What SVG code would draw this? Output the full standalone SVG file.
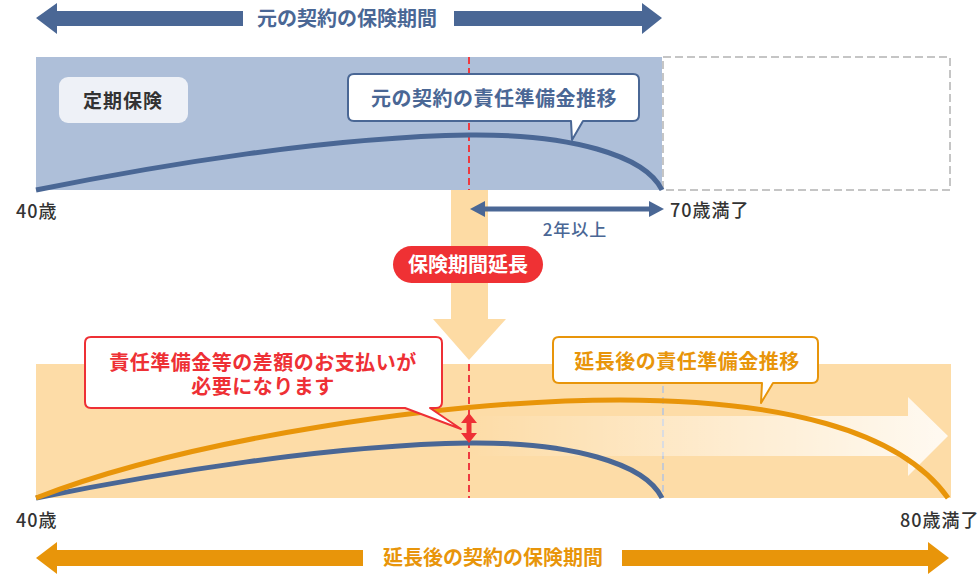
<svg xmlns="http://www.w3.org/2000/svg" width="980" height="576" viewBox="0 0 980 576">
<style>
  text { font-family: "Noto Sans CJK JP", "Noto Sans", sans-serif; }
  .title { font-size: 20px; font-weight: 700; text-anchor: middle; }
  .lbl { font-size: 18px; font-weight: 500; fill: #333333; }
  .call { font-size: 20px; font-weight: 700; text-anchor: middle; }
  .blue { fill: #4a6795; }
  .orange { fill: #e8950a; }
  .red { fill: #ee3035; }
  .redDash { stroke: #ee3a40; stroke-width: 2; stroke-dasharray: 7 4; fill: none; }
  .curveB { stroke: #4a6795; stroke-width: 5; fill: none; }
  .curveO { stroke: #e8950a; stroke-width: 5; fill: none; }
  .callBox { fill: #ffffff; stroke-width: 2; stroke-linejoin: round; }
</style>
<defs>
  <linearGradient id="fadeArrow" x1="470" y1="0" x2="948" y2="0" gradientUnits="userSpaceOnUse">
    <stop offset="0" stop-color="#ffffff" stop-opacity="0"/>
    <stop offset="0.4" stop-color="#ffffff" stop-opacity="0.35"/>
    <stop offset="1" stop-color="#ffffff" stop-opacity="0.85"/>
  </linearGradient>
</defs>

<!-- top period arrow -->
<g id="top-period">
  <polygon class="blue" points="36,18 57,3 57,11 243,11 243,26 57,26 57,34"/>
  <polygon class="blue" points="662,18 642,3 642,11 454,11 454,26 642,26 642,34"/>
  <text class="title blue" x="347" y="26">元の契約の保険期間</text>
</g>

<!-- top chart area -->
<g id="top-area">
  <rect x="36" y="57" width="626" height="133" fill="#aebfd9"/>
  <rect x="663" y="57" width="287" height="133" fill="#ffffff" stroke="#b3b3b3" stroke-width="1.5" stroke-dasharray="8 4"/>
</g>

<g id="term-label">
  <rect x="59" y="77" width="129" height="46" rx="9" fill="#eef1f7"/>
  <text class="lbl" x="123" y="108" text-anchor="middle" style="font-size:19px;font-weight:700;" letter-spacing="1">定期保険</text>
</g>

<!-- orange down arrow -->
<g id="extend-arrow">
  <polygon fill="#fddba4" points="451,190 488,190 488,319 506,319 469,360 433,319 451,319"/>
</g>

<!-- bottom chart area -->
<g id="bottom-area">
  <rect x="36" y="364" width="915" height="134" fill="#fddca7"/>
  <line x1="663" y1="364" x2="663" y2="498" stroke="#c6cad2" stroke-width="2" stroke-dasharray="7 4"/>
  <polygon fill="url(#fadeArrow)" points="470,416 908,416 908,397 948,436 908,476 908,456 470,456"/>
</g>

<!-- connectors / curves -->
<g id="connectors">
  <line class="redDash" x1="469" y1="57" x2="469" y2="190"/>
  <line class="redDash" x1="469" y1="364" x2="469" y2="498"/>
  <path class="curveB" d="M36,190 C160,165 330,137 469,135 C570,134 645,155 662,190"/>
  <path class="curveB" d="M36,498 C160,473 330,445 469,443 C570,442 645,463 662,498"/>
  <path class="curveO" d="M36,498 C190,438 450,400 620,400 C780,400 900,430 948,498"/>
  <!-- 2 years double arrow -->
  <polygon class="blue" points="470,209 485,201 485,206.5 649,206.5 649,201 664,209 649,217 649,211.5 485,211.5 485,217"/>
  <!-- red difference arrow -->
  <polygon class="red" points="469,413 477,423 471.5,423 471.5,433 477,433 469,443 461,433 466.5,433 466.5,423 461,423"/>
</g>

<g id="age-labels">
  <text class="lbl" x="16" y="218" letter-spacing="1">40歳</text>
  <text class="lbl" x="670" y="217" letter-spacing="1">70歳満了</text>
  <text class="blue" x="575" y="236" text-anchor="middle" style="font-size:17px;font-weight:500;" letter-spacing="1">2年以上</text>
  <text class="lbl" x="16" y="527" letter-spacing="1">40歳</text>
  <text class="lbl" x="900" y="527" letter-spacing="1">80歳満了</text>
</g>

<g id="extend-pill">
  <rect x="393" y="246" width="150" height="37" rx="18.5" fill="#ef3134"/>
  <text class="call" x="468" y="272" fill="#ffffff">保険期間延長</text>
</g>

<g id="callout-original">
  <path class="callBox" stroke="#4a6795" d="M354,74 H633 Q639,74 639,80 V115 Q639,121 633,121 H583 L572,140 L571,121 H354 Q348,121 348,115 V80 Q348,74 354,74 Z"/>
  <text class="call blue" x="494" y="106" letter-spacing="0.5">元の契約の責任準備金推移</text>
</g>

<g id="callout-difference">
  <path class="callBox" stroke="#ee3035" d="M91,337 H436 Q442,337 442,343 V402 Q442,408 436,408 H430 L461,429 L405,408 H91 Q85,408 85,402 V343 Q85,337 91,337 Z"/>
  <text class="call red" x="263" y="370" letter-spacing="0.5">責任準備金等の差額のお支払いが</text>
  <text class="call red" x="263" y="394" letter-spacing="0.5">必要になります</text>
</g>

<g id="callout-extended">
  <path class="callBox" stroke="#e8950a" d="M559,337 H812 Q818,337 818,343 V377 Q818,383 812,383 H773 L761,403 L762,383 H559 Q553,383 553,377 V343 Q553,337 559,337 Z"/>
  <text class="call orange" x="687" y="369" letter-spacing="0.5">延長後の責任準備金推移</text>
</g>

<!-- bottom period arrow -->
<g id="bottom-period">
  <polygon class="orange" points="36,558 57,542 57,550 363,550 363,566 57,566 57,574"/>
  <polygon class="orange" points="949,558 928,542 928,550 622,550 622,566 928,566 928,574"/>
  <text class="title orange" x="493" y="565">延長後の契約の保険期間</text>
</g>
</svg>
